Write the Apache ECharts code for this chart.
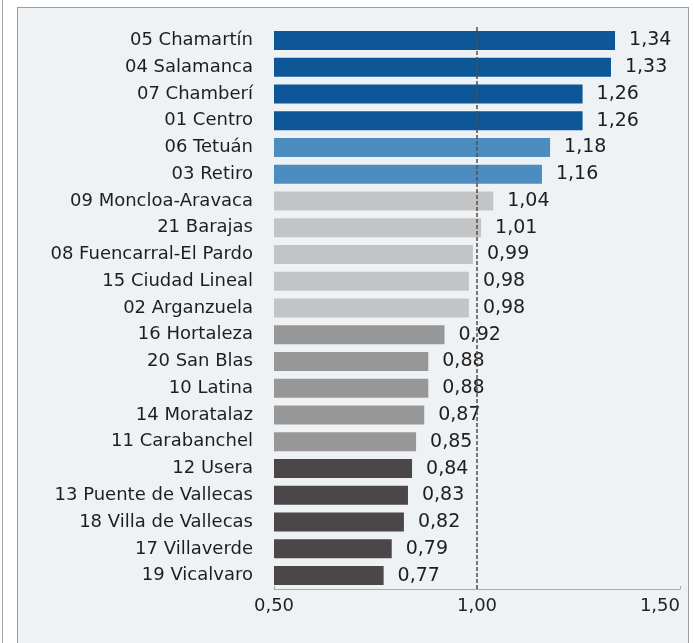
<!DOCTYPE html>
<html>
<head>
<meta charset="utf-8">
<script src="https://cdn.jsdelivr.net/npm/echarts@6/dist/echarts.min.js"></script>
<style>
  html, body { margin: 0; padding: 0; background: #ffffff; overflow: hidden; }
  #wrap { position: relative; width: 695px; height: 643px; }
  #leftline { position: absolute; left: 2px; top: 0; width: 1px; height: 643px; background: #a8a8a8; }
  #panel { position: absolute; left: 17px; top: 7px; width: 672px; height: 650px;
           border: 1px solid #9c9c9c; background: #eef2f5; box-sizing: border-box; }
  #chart { position: absolute; left: 0; top: 0; width: 695px; height: 643px; }
</style>
</head>
<body>
<div id="wrap">
  <div id="leftline"></div>
  <div id="panel"></div>
  <div id="chart"></div>
</div>
<script>
const categories = [
  "05 Chamartín", "04 Salamanca", "07 Chamberí", "01 Centro", "06 Tetuán", "03 Retiro",
  "09 Moncloa-Aravaca", "21 Barajas", "08 Fuencarral-El Pardo", "15 Ciudad Lineal", "02 Arganzuela",
  "16 Hortaleza", "20 San Blas", "10 Latina", "14 Moratalaz", "11 Carabanchel",
  "12 Usera", "13 Puente de Vallecas", "18 Villa de Vallecas", "17 Villaverde", "19 Vicalvaro"
];
const values = [
  1.34, 1.33, 1.26, 1.26, 1.18, 1.16,
  1.04, 1.01, 0.99, 0.98, 0.98,
  0.92, 0.88, 0.88, 0.87, 0.85,
  0.84, 0.83, 0.82, 0.79, 0.77
];
const groups = [
  0, 0, 0, 0, 1, 1,
  2, 2, 2, 2, 2,
  3, 3, 3, 3, 3,
  4, 4, 4, 4, 4
];
const groupColors = ["#0d5698", "#4d8cc0", "#c3c4c6", "#979797", "#4b4748"];
const axisMin = 0.5, axisMax = 1.5, axisStep = 0.5;
const referenceValue = 1.0;

const fmt = v => v.toFixed(2).replace('.', ',');
const FONT = "DejaVu Sans";

const chart = echarts.init(document.getElementById('chart'), null, { renderer: 'canvas' });
chart.setOption({
  backgroundColor: 'transparent',
  animation: false,
  grid: { left: 274, right: 15, top: 27, bottom: 54, containLabel: false, outerBoundsMode: 'none' },
  xAxis: {
    type: 'value', min: axisMin, max: axisMax, interval: axisStep,
    axisLine: { show: true, lineStyle: { color: '#a9a9a9', width: 1 } },
    axisTick: { show: true, inside: true, length: 3, lineStyle: { color: '#a9a9a9' } },
    splitLine: { show: false },
    axisLabel: {
      formatter: v => fmt(v), fontFamily: FONT, fontSize: 18, color: '#222222', margin: 8,
      alignMaxLabel: 'right'
    }
  },
  yAxis: {
    type: 'category', inverse: true, data: categories,
    axisLine: { show: false }, axisTick: { show: false },
    axisLabel: { fontFamily: FONT, fontSize: 18, color: '#1e1e1e', margin: 21 }
  },
  series: [{
    type: 'bar',
    data: values.map((v, i) => ({ value: v, itemStyle: { color: groupColors[groups[i]] } })),
    barWidth: 19,
    label: {
      show: true, position: 'right', distance: 14,
      formatter: p => fmt(p.value), fontFamily: FONT, fontSize: 19, color: '#1e1e1e'
    },
    markLine: {
      silent: true, symbol: 'none', label: { show: false },
      lineStyle: { color: '#5a4c44', width: 1.5, type: [4, 2] },
      data: [{ xAxis: referenceValue }]
    }
  }]
});
</script>
</body>
</html>
